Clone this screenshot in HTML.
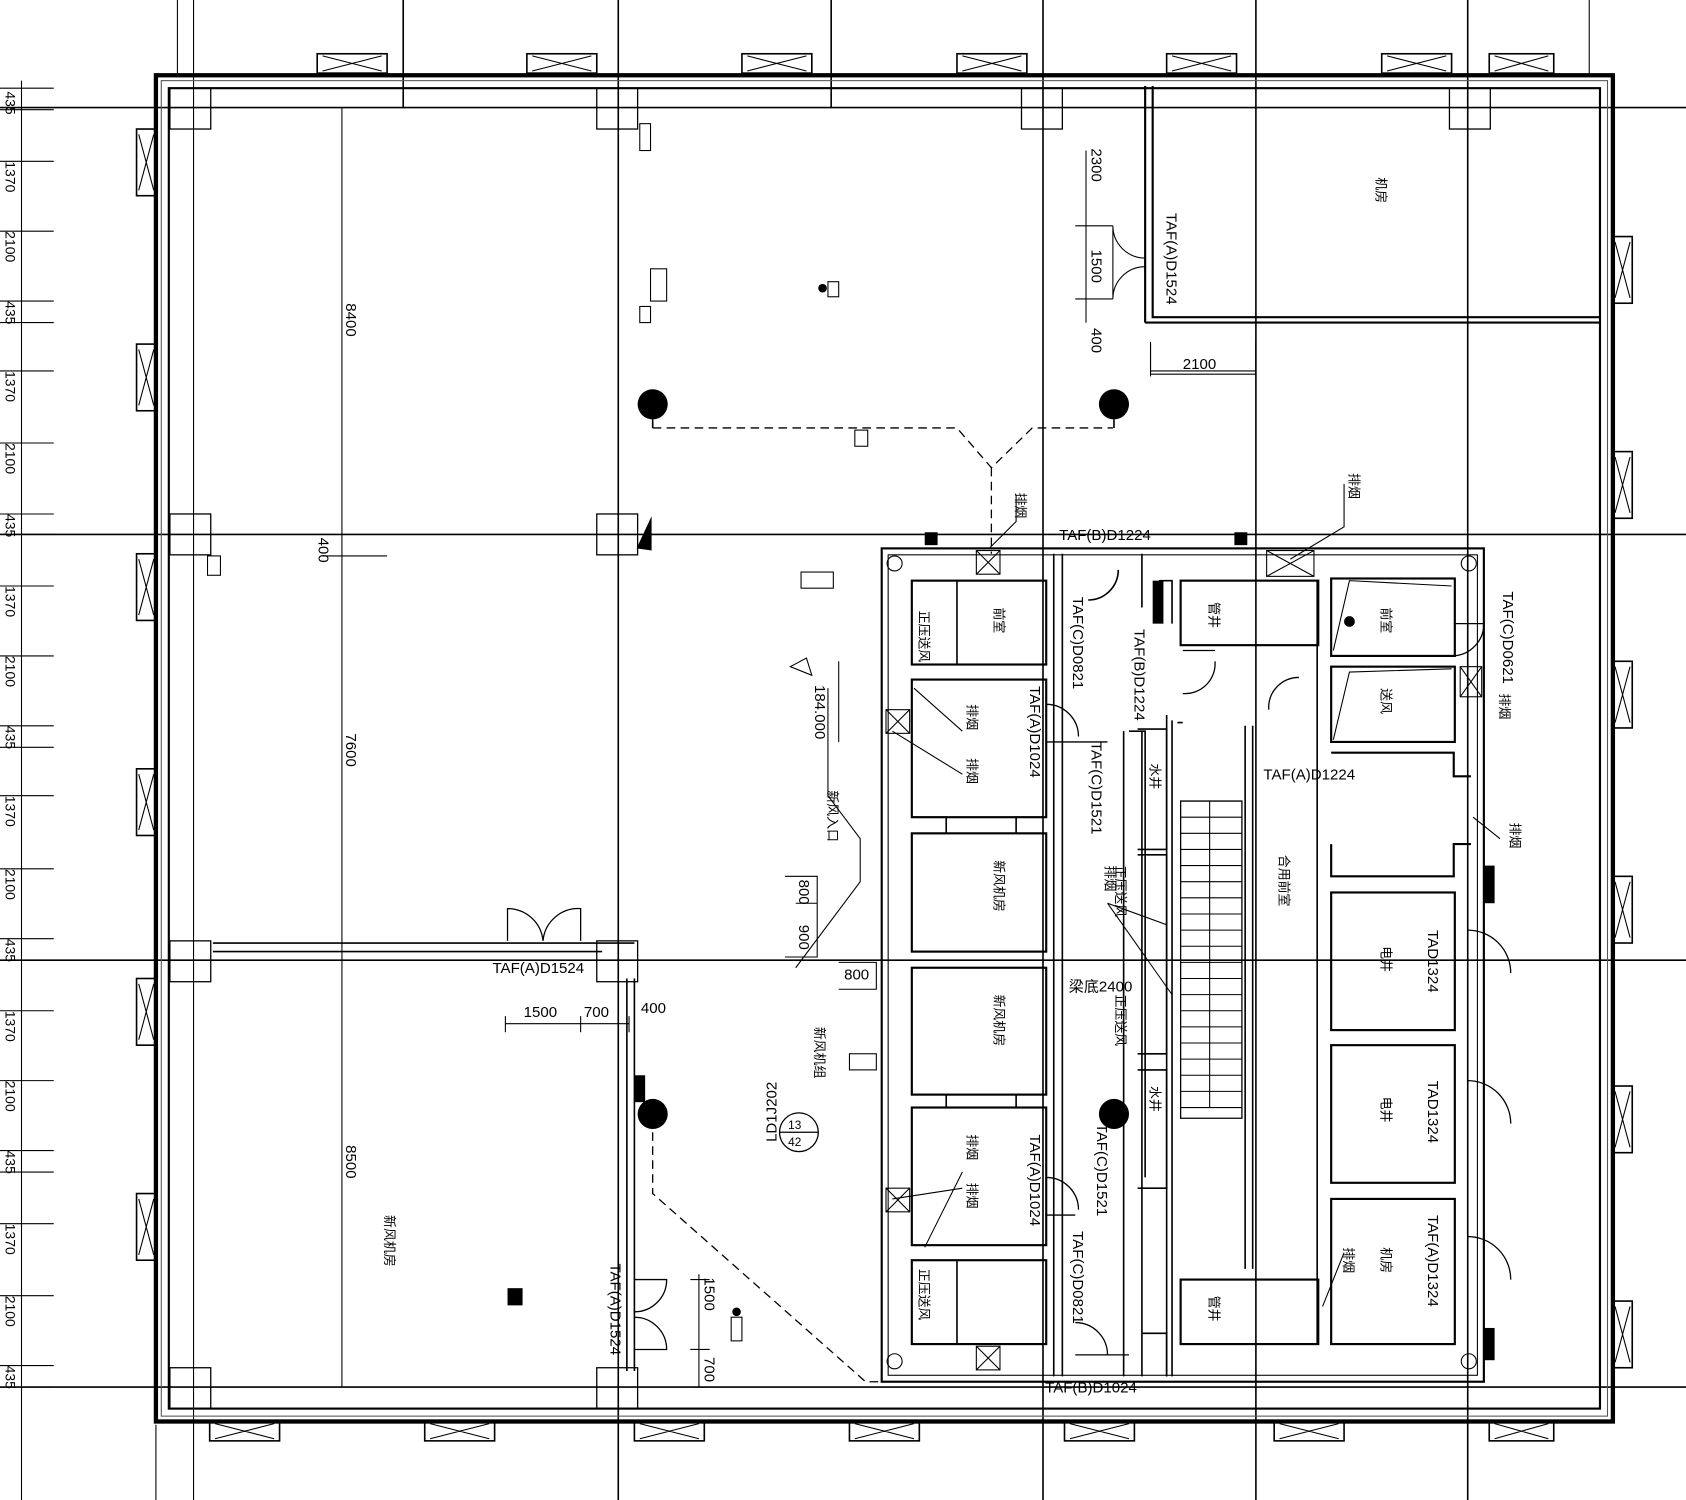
<!DOCTYPE html>
<html><head><meta charset="utf-8"><style>
html,body{margin:0;padding:0;background:#fff;}
svg{display:block;}
text{font-family:"Liberation Sans","Noto Sans CJK SC",sans-serif;fill:#000;}
</style></head><body>
<svg width="1686" height="1500" viewBox="0 0 1568 1395" preserveAspectRatio="none" xmlns="http://www.w3.org/2000/svg">
<rect width="1568" height="1395" fill="#fff"/>
<g stroke="#000" fill="none" stroke-width="1.5">
<!-- grid lines -->
<line x1="0" y1="100" x2="1568" y2="100"/>
<line x1="0" y1="497" x2="1568" y2="497"/>
<line x1="0" y1="893" x2="1568" y2="893"/>
<line x1="0" y1="1290" x2="1568" y2="1290"/>
<line x1="575" y1="0" x2="575" y2="1395"/>
<line x1="970" y1="0" x2="970" y2="1395"/>
<line x1="1168" y1="0" x2="1168" y2="1395"/>
<line x1="1365" y1="0" x2="1365" y2="1395"/>
<line x1="773" y1="0" x2="773" y2="100"/>
<line x1="375" y1="0" x2="375" y2="100"/>
<line x1="180" y1="0" x2="180" y2="1395" stroke-width="1"/>
<line x1="165" y1="0" x2="165" y2="70" stroke-width="1"/>
<line x1="1478" y1="0" x2="1478" y2="70" stroke-width="1"/>
<line x1="145" y1="1325" x2="145" y2="1395" stroke-width="1"/>
<!-- outer walls -->
<rect x="145" y="70" width="1355" height="1252" stroke-width="4"/>
<rect x="157" y="82" width="1331" height="1228" stroke-width="2"/>
<rect x="150" y="75" width="1345" height="1242" stroke-width="1" stroke="#555"/>
<!-- top windows -->
<g stroke-width="1.5">
<rect x="295" y="50" width="65" height="18"/><rect x="490" y="50" width="65" height="18"/><rect x="690" y="50" width="65" height="18"/><rect x="890" y="50" width="65" height="18"/><rect x="1085" y="50" width="65" height="18"/><rect x="1285" y="50" width="65" height="18"/><rect x="1385" y="50" width="60" height="18"/>
<rect x="195" y="1322" width="65" height="18"/><rect x="395" y="1322" width="65" height="18"/><rect x="590" y="1322" width="65" height="18"/><rect x="790" y="1322" width="65" height="18"/><rect x="990" y="1322" width="65" height="18"/><rect x="1185" y="1322" width="65" height="18"/><rect x="1385" y="1322" width="60" height="18"/>
<rect x="127" y="120" width="18" height="62"/><rect x="127" y="320" width="18" height="62"/><rect x="127" y="515" width="18" height="62"/><rect x="127" y="715" width="18" height="62"/><rect x="127" y="910" width="18" height="62"/><rect x="127" y="1110" width="18" height="62"/>
<rect x="1500" y="220" width="18" height="62"/><rect x="1500" y="420" width="18" height="62"/><rect x="1500" y="615" width="18" height="62"/><rect x="1500" y="815" width="18" height="62"/><rect x="1500" y="1010" width="18" height="62"/><rect x="1500" y="1210" width="18" height="62"/>
</g>
<g stroke-width="1">
<path d="M300 52 L355 66 M300 66 L355 52 M495 52 L550 66 M495 66 L550 52 M695 52 L750 66 M695 66 L750 52 M895 52 L950 66 M895 66 L950 52 M1090 52 L1145 66 M1090 66 L1145 52 M1290 52 L1345 66 M1290 66 L1345 52 M1390 52 L1440 66 M1390 66 L1440 52"/>
<path d="M200 1324 L255 1338 M200 1338 L255 1324 M400 1324 L455 1338 M400 1338 L455 1324 M595 1324 L650 1338 M595 1338 L650 1324 M795 1324 L850 1338 M795 1338 L850 1324 M995 1324 L1050 1338 M995 1338 L1050 1324 M1190 1324 L1245 1338 M1190 1338 L1245 1324 M1390 1324 L1440 1338 M1390 1338 L1440 1324"/>
<path d="M129 125 L143 177 M143 125 L129 177 M129 325 L143 377 M143 325 L129 377 M129 520 L143 572 M143 520 L129 572 M129 720 L143 772 M143 720 L129 772 M129 915 L143 967 M143 915 L129 967 M129 1115 L143 1167 M143 1115 L129 1167"/>
<path d="M1502 225 L1516 277 M1516 225 L1502 277 M1502 425 L1516 477 M1516 425 L1502 477 M1502 620 L1516 672 M1516 620 L1502 672 M1502 820 L1516 872 M1516 820 L1502 872 M1502 1015 L1516 1067 M1516 1015 L1502 1067 M1502 1215 L1516 1267 M1516 1215 L1502 1267"/>
</g>
<!-- column boxes -->
<g stroke-width="1.2">
<rect x="555" y="82" width="38" height="38"/><rect x="950" y="82" width="38" height="38"/><rect x="1348" y="82" width="38" height="38"/><rect x="158" y="82" width="38" height="38"/>
<rect x="555" y="478" width="38" height="38"/><rect x="158" y="478" width="38" height="38"/>
<rect x="555" y="875" width="38" height="38"/><rect x="158" y="875" width="38" height="38"/>
<rect x="555" y="1272" width="38" height="38"/><rect x="158" y="1272" width="38" height="38"/>
</g>
<!-- left margin ticks -->
<g stroke-width="1">
<path d="M0 82 H50 M0 102 H50 M0 150 H50 M0 215 H50 M0 280 H50 M0 300 H50 M0 345 H50 M0 412 H50 M0 478 H50 M0 497 H50 M0 545 H50 M0 610 H50 M0 675 H50 M0 695 H50 M0 740 H50 M0 808 H50 M0 873 H50 M0 893 H50 M0 940 H50 M0 1005 H50 M0 1070 H50 M0 1090 H50 M0 1138 H50 M0 1205 H50 M0 1270 H50 M0 1290 H50"/>
<path d="M20 75 V1395"/>
</g>
<!-- interior partition -->
<line x1="318" y1="100" x2="318" y2="1290" stroke-width="1"/>
<path d="M198 877 H590 M198 885 H560" stroke-width="1.5"/>
<path d="M583 910 V1275 M590 910 V1275" stroke-width="1.5"/>
<!-- top-right room -->
<path d="M1065 80 V300 M1072 80 V295 H1488 M1065 300 H1488" stroke-width="2"/>
<path d="M1035 210 V278 M1035 278 A30 30 0 0 1 1065 248 M1035 210 A30 30 0 0 0 1065 240" stroke-width="1"/>
<path d="M1010 140 V300 M1000 210 H1035 M1000 278 H1035 M1070 320 V350 M1168 320 V350 M1070 345 H1168" stroke-width="1"/>
<!-- dashed -->
<path d="M607 398 H890 L922 435 L960 398 H1035 M922 435 V515 M607 1040 V1110 L805 1285 H960" stroke-dasharray="8 5" stroke-width="1.2"/>
<path d="M607 390 V398 M1036 390 V398"/>
<!-- door left 1524 -->
<path d="M472 875 V845 A33 33 0 0 1 505 875 M540 875 V845 A33 33 0 0 0 505 875" stroke-width="1.2"/>
<path d="M590 1190 H620 A30 30 0 0 1 590 1220 M590 1255 H620 A30 30 0 0 0 590 1225" stroke-width="1.2"/>
<!-- dims -->
<path d="M470 945 V960 M470 952 H585 M540 945 V960 M585 945 V960 M650 1185 V1290 M642 1190 H660 M642 1255 H660 M642 1290 H660" stroke-width="1"/>
<path d="M1070 318 V348 M1168 318 V348 M1070 348 H1168" stroke-width="1"/>
<path d="M300 517 H360" stroke-width="1"/>
<!-- core -->
<rect x="820" y="510" width="560" height="775" stroke-width="2"/>
<rect x="826" y="516" width="548" height="763" stroke-width="1"/>
<!-- left rooms of core -->
<rect x="848" y="540" width="125" height="78" stroke-width="2"/>
<line x1="890" y1="540" x2="890" y2="618"/>
<rect x="848" y="632" width="125" height="128" stroke-width="2"/>
<path d="M848 760 H880 V775 H848 M973 760 H945 V775 H973" stroke-width="1.5"/>
<rect x="848" y="775" width="125" height="110" stroke-width="2"/>
<rect x="848" y="900" width="125" height="118" stroke-width="2"/>
<path d="M848 1018 H880 V1030 H848 M973 1018 H945 V1030 H973" stroke-width="1.5"/>
<rect x="848" y="1030" width="125" height="128" stroke-width="2"/>
<rect x="848" y="1172" width="125" height="78" stroke-width="2"/>
<line x1="890" y1="1172" x2="890" y2="1250"/>
<!-- corridor lines -->
<path d="M988 515 V1280 M980 515 V1280" stroke-width="1.5"/>
<path d="M973 655 A30 30 0 0 1 1003 685 M973 690 H1030 M973 1095 A30 30 0 0 1 1003 1125 M973 1130 H1000 M1000 1230 A30 30 0 0 1 1030 1260 M1000 1260 H1050" stroke-width="1.2"/>
<path d="M1045 680 V1280 M1050 680 H1065 V1095 M1062 680 V1280 M1062 1240 H1085 V1280" stroke-width="1.5"/>
<path d="M1058 678 H1085 V790 H1058 M1058 795 H1085 V980 H1058 M1058 995 H1085 V1105 H1058" stroke-width="1.5"/>
<path d="M1062 515 V565 M1078 540 H1090 V580 M1040 530 A28 28 0 0 1 1012 558" stroke-width="1.5"/>
<path d="M1085 665 V1280 M1095 672 H1100 M1090 670 V1280" stroke-width="1.5"/>
<!-- stairs -->
<path d="M1098 745 H1155 V1040 H1098 Z" stroke-width="1.2"/>
<g stroke-width="1">
<path d="M1098 760 H1155 M1098 775 H1155 M1098 790 H1155 M1098 805 H1155 M1098 820 H1155 M1098 835 H1155 M1098 850 H1155 M1098 865 H1155 M1098 880 H1155 M1098 895 H1155 M1098 910 H1155 M1098 925 H1155 M1098 940 H1155 M1098 955 H1155 M1098 970 H1155 M1098 985 H1155 M1098 1000 H1155 M1098 1015 H1155 M1098 1030 H1155 M1125 745 V1030"/>
</g>
<path d="M1158 675 V1180 M1165 675 V1180" stroke-width="1.5"/>
<!-- right of stair -->
<rect x="1098" y="540" width="128" height="60" stroke-width="2"/>
<rect x="1098" y="1190" width="128" height="60" stroke-width="2"/>
<path d="M1225 540 V1250" stroke-width="1.5"/>
<path d="M1100 605 H1130 M1130 615 A28 28 0 0 1 1100 645" stroke-width="1.2"/>
<path d="M1180 660 A28 28 0 0 1 1208 630" stroke-width="1.2"/>
<!-- right rooms -->
<rect x="1238" y="538" width="115" height="72" stroke-width="2"/>
<rect x="1238" y="620" width="115" height="70" stroke-width="2"/>
<path d="M1238 700 H1352 V722 H1368 M1238 785 V815 H1352 V785 H1368" stroke-width="2"/>
<rect x="1238" y="830" width="115" height="128" stroke-width="2"/>
<rect x="1238" y="972" width="115" height="128" stroke-width="2"/>
<rect x="1238" y="1115" width="115" height="135" stroke-width="2"/>
<path d="M1352 580 H1380 A30 30 0 0 1 1352 610 M1365 865 A40 40 0 0 1 1405 905 M1365 1005 A40 40 0 0 1 1405 1045 M1365 1150 A40 40 0 0 1 1405 1190" stroke-width="1.2"/>
<path d="M1240 605 L1255 540 L1350 545 M1240 688 L1255 625 L1350 622" stroke-width="1"/>
<!-- leaders -->
<path d="M850 640 L895 680 M830 680 L895 720 M1030 840 L1090 925 M1030 840 L1085 860 M860 1160 L895 1090 M830 1115 L895 1105 M1230 1215 L1250 1165 M1370 760 L1395 780 M1200 520 L1250 490 V450 M920 510 L945 485 V460 M740 900 L800 820 V780 L770 740 V640" stroke-width="1"/>
<path d="M735 620 L750 612 L755 628 Z" stroke-width="1"/>
<path d="M780 615 V690" stroke-width="1"/>
<path d="M730 815 H760 V890 H730 M740 840 H760 M780 895 H815 V920 H780" stroke-width="1"/>
<!-- small boxes X -->
<g stroke-width="1">
<rect x="908" y="512" width="22" height="22"/><path d="M908 512 L930 534 M930 512 L908 534"/>
<rect x="1178" y="512" width="44" height="24"/><path d="M1178 512 L1222 536 M1222 512 L1178 536"/>
<rect x="1358" y="620" width="20" height="28"/><path d="M1358 620 L1378 648 M1378 620 L1358 648"/>
<rect x="824" y="660" width="22" height="22"/><path d="M824 660 L846 682 M846 660 L824 682"/>
<rect x="824" y="1105" width="22" height="22"/><path d="M824 1105 L846 1127 M846 1105 L824 1127"/>
<rect x="908" y="1252" width="22" height="22"/><path d="M908 1252 L930 1274 M930 1252 L908 1274"/>
<circle cx="832" cy="524" r="7"/><circle cx="1366" cy="524" r="7"/><circle cx="832" cy="1266" r="7"/><circle cx="1366" cy="1266" r="7"/>
<rect x="595" y="115" width="10" height="25"/><rect x="605" y="250" width="15" height="30"/><rect x="595" y="285" width="10" height="15"/><rect x="795" y="400" width="12" height="15"/><rect x="770" y="262" width="10" height="14"/><rect x="193" y="517" width="12" height="18"/><rect x="745" y="532" width="30" height="15"/><rect x="790" y="980" width="25" height="15"/><rect x="680" y="1225" width="10" height="22"/>
</g>
</g>
<g fill="#000">
<circle cx="607" cy="376" r="14"/><circle cx="1036" cy="376" r="14"/><circle cx="607" cy="1036" r="14"/><circle cx="1036" cy="1036" r="14"/>
<circle cx="765" cy="268" r="4"/><circle cx="1255" cy="578" r="5"/><circle cx="685" cy="1220" r="4"/>
<rect x="472" y="1198" width="14" height="16"/><rect x="860" y="495" width="12" height="12"/><rect x="1148" y="495" width="12" height="12"/>
<path d="M592 510 L606 480 L606 512 Z"/>
<rect x="1072" y="540" width="10" height="40"/><rect x="1380" y="805" width="10" height="35"/><rect x="1380" y="1235" width="10" height="30"/><rect x="590" y="1000" width="10" height="25"/>
</g>
<g font-size="14">
<text x="985" y="502">TAF(B)D1224</text>
<text x="1175" y="725">TAF(A)D1224</text>
<text x="458" y="905">TAF(A)D1524</text>
<text x="972" y="1295">TAF(B)D1024</text>
<text x="487" y="946">1500</text><text x="543" y="946">700</text><text x="596" y="942">400</text>
<text x="1100" y="343">2100</text>
<text x="785" y="911">800</text>
<text x="994" y="922">梁底2400</text>
</g>
<g font-size="14">
<text transform="translate(1015,138) rotate(90)">2300</text>
<text transform="translate(1015,232) rotate(90)">1500</text>
<text transform="translate(1015,305) rotate(90)">400</text>
<text transform="translate(322,282) rotate(90)">8400</text>
<text transform="translate(296,500) rotate(90)">400</text>
<text transform="translate(322,682) rotate(90)">7600</text>
<text transform="translate(322,1065) rotate(90)">8500</text>
<text transform="translate(1085,198) rotate(90)">TAF(A)D1524</text>
<text transform="translate(758,637) rotate(90)">184.000</text>
<text transform="translate(743,818) rotate(90)">800</text>
<text transform="translate(743,860) rotate(90)">900</text>
<text transform="translate(655,1188) rotate(90)">1500</text>
<text transform="translate(655,1262) rotate(90)">700</text>
<text transform="translate(568,1175) rotate(90)">TAF(A)D1524</text>
<text transform="translate(958,638) rotate(90)">TAF(A)D1024</text>
<text transform="translate(958,1055) rotate(90)">TAF(A)D1024</text>
<text transform="translate(998,555) rotate(90)">TAF(C)D0821</text>
<text transform="translate(1055,585) rotate(90)">TAF(B)D1224</text>
<text transform="translate(1015,690) rotate(90)">TAF(C)D1521</text>
<text transform="translate(1020,1045) rotate(90)">TAF(C)D1521</text>
<text transform="translate(998,1145) rotate(90)">TAF(C)D0821</text>
<text transform="translate(1398,550) rotate(90)">TAF(C)D0621</text>
<text transform="translate(1328,865) rotate(90)" fill="#555">TAD1324</text>
<text transform="translate(1328,1005) rotate(90)" fill="#555">TAD1324</text>
<text transform="translate(1328,1130) rotate(90)">TAF(A)D1324</text>
<text transform="translate(722,1062) rotate(-90)">LD1J202</text>
</g>
<g font-size="12">
<text transform="translate(1280,165) rotate(90)">机房</text>
<text transform="translate(925,565) rotate(90)">前室</text>
<text transform="translate(855,568) rotate(90)">正压送风</text>
<text transform="translate(1285,565) rotate(90)">前室</text>
<text transform="translate(1285,640) rotate(90)">送风</text>
<text transform="translate(1125,560) rotate(90)">管井</text>
<text transform="translate(1125,1205) rotate(90)">管井</text>
<text transform="translate(925,800) rotate(90)">新风机房</text>
<text transform="translate(925,925) rotate(90)">新风机房</text>
<text transform="translate(1190,795) rotate(90)">合用前室</text>
<text transform="translate(1285,880) rotate(90)">电井</text>
<text transform="translate(1285,1020) rotate(90)">电井</text>
<text transform="translate(1285,1160) rotate(90)">机房</text>
<text transform="translate(358,1130) rotate(90)">新风机房</text>
<text transform="translate(1038,805) rotate(90)">正压送风</text>
<text transform="translate(1038,925) rotate(90)">正压送风</text>
<text transform="translate(900,655) rotate(90)">排烟</text>
<text transform="translate(900,705) rotate(90)">排烟</text>
<text transform="translate(900,1055) rotate(90)">排烟</text>
<text transform="translate(900,1100) rotate(90)">排烟</text>
<text transform="translate(1028,805) rotate(90)">排烟</text>
<text transform="translate(1250,1160) rotate(90)">排烟</text>
<text transform="translate(1395,645) rotate(90)">排烟</text>
<text transform="translate(1405,765) rotate(90)">排烟</text>
<text transform="translate(1255,440) rotate(90)">排烟</text>
<text transform="translate(945,458) rotate(90)">排烟</text>
<text transform="translate(770,735) rotate(90)">新风入口</text>
<text transform="translate(758,955) rotate(90)">新风机组</text>
<text transform="translate(855,1180) rotate(90)">正压送风</text>
<text transform="translate(1070,710) rotate(90)">水井</text>
<text transform="translate(1070,1010) rotate(90)">水井</text>
</g>
<g stroke="#000" fill="none" stroke-width="1.2"><circle cx="743" cy="1053" r="18"/><line x1="725" y1="1053" x2="761" y2="1053"/></g>
<text x="733" y="1050" font-size="11">13</text><text x="733" y="1066" font-size="11">42</text>
<g font-size="13">
<text transform="translate(5,85) rotate(90)">435</text><text transform="translate(5,280) rotate(90)">435</text><text transform="translate(5,478) rotate(90)">435</text><text transform="translate(5,675) rotate(90)">435</text><text transform="translate(5,873) rotate(90)">435</text><text transform="translate(5,1070) rotate(90)">435</text><text transform="translate(5,1270) rotate(90)">435</text>
<text transform="translate(5,150) rotate(90)">1370</text><text transform="translate(5,345) rotate(90)">1370</text><text transform="translate(5,545) rotate(90)">1370</text><text transform="translate(5,740) rotate(90)">1370</text><text transform="translate(5,940) rotate(90)">1370</text><text transform="translate(5,1138) rotate(90)">1370</text>
<text transform="translate(5,215) rotate(90)">2100</text><text transform="translate(5,412) rotate(90)">2100</text><text transform="translate(5,610) rotate(90)">2100</text><text transform="translate(5,808) rotate(90)">2100</text><text transform="translate(5,1005) rotate(90)">2100</text><text transform="translate(5,1205) rotate(90)">2100</text>
</g>
</svg>
</body></html>
